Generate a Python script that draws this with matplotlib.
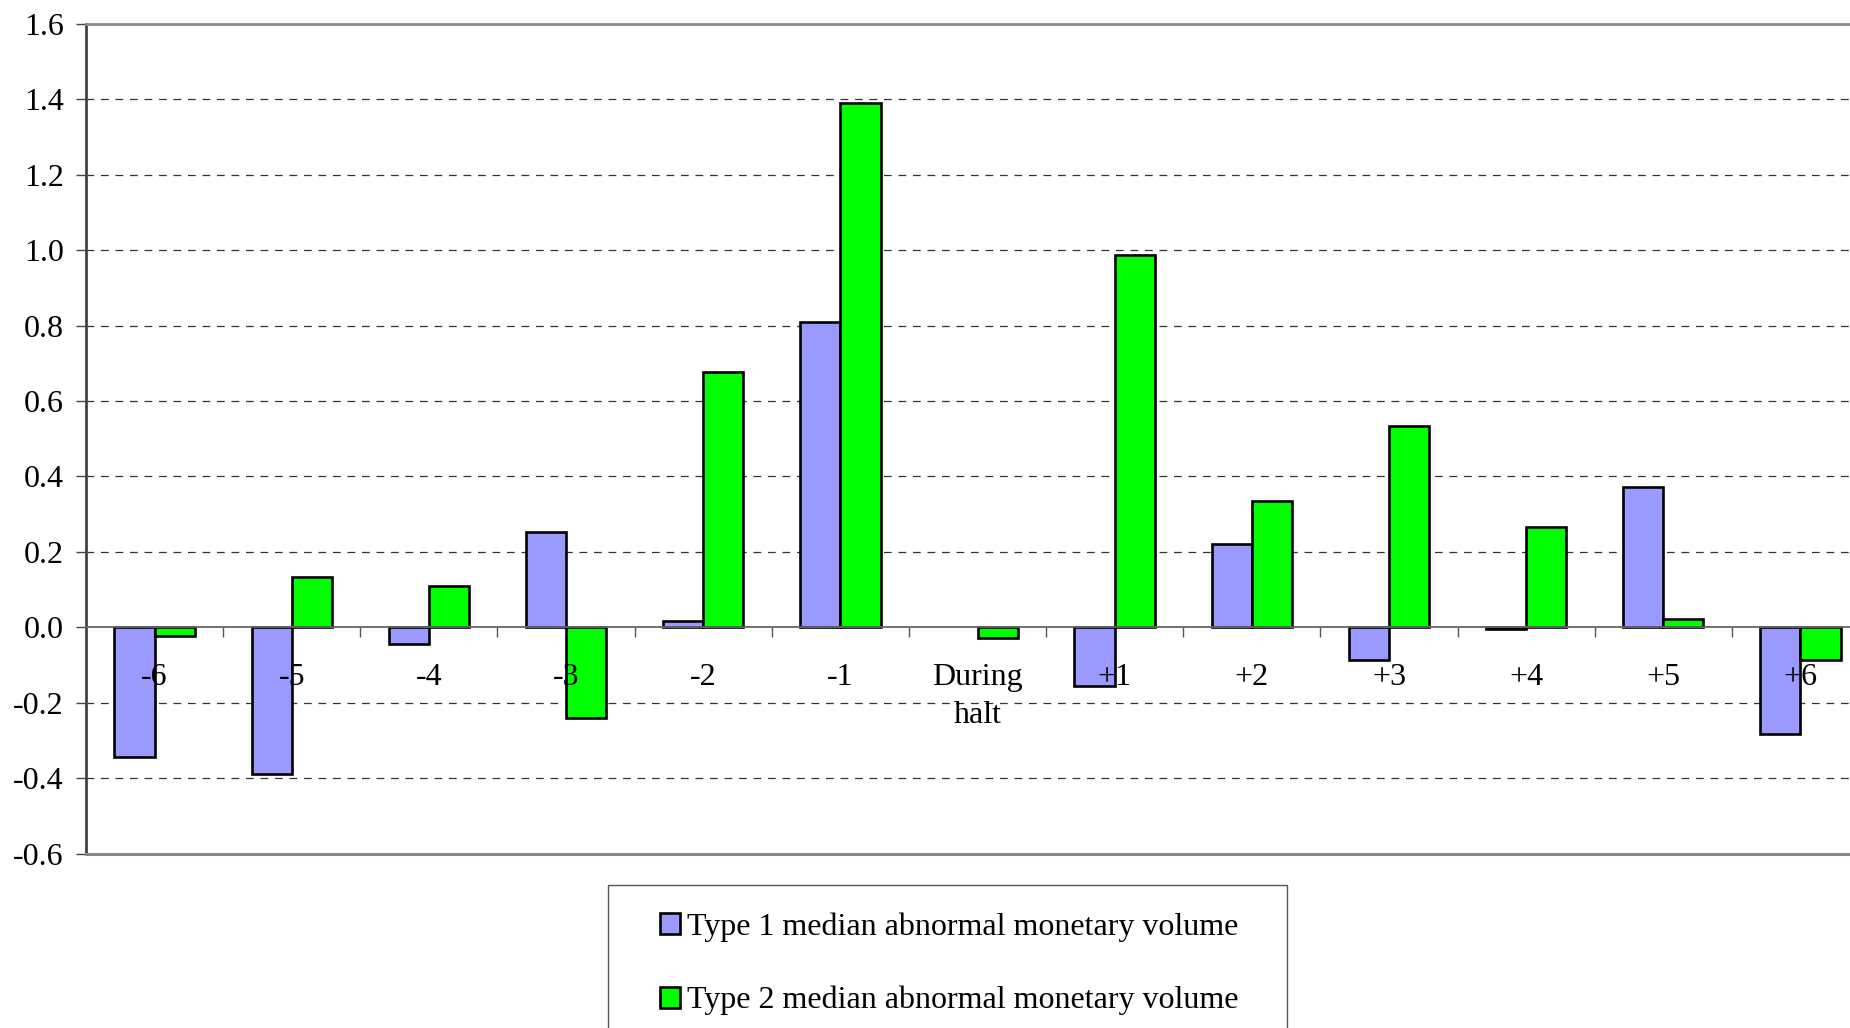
import numpy as np
import matplotlib
matplotlib.use("Agg")
import matplotlib.pyplot as plt
from matplotlib.patches import Rectangle

plt.rcParams['font.family'] = ['Liberation Serif', 'DejaVu Serif']
plt.rcParams['axes.unicode_minus'] = False

# Event-window categories and median abnormal monetary volume per halt type
categories = ["-6", "-5", "-4", "-3", "-2", "-1", "During\nhalt",
              "+1", "+2", "+3", "+4", "+5", "+6"]
type1 = [-0.344, -0.388, -0.044, 0.253, 0.016, 0.809, 0.0,
         -0.156, 0.222, -0.088, -0.005, 0.371, -0.284]
type2 = [-0.022, 0.134, 0.109, -0.240, 0.676, 1.390, -0.028,
         0.988, 0.334, 0.534, 0.265, 0.022, -0.088]
series_labels = ["Type 1 median abnormal monetary volume",
                 "Type 2 median abnormal monetary volume"]
y_ticks = [-0.6, -0.4, -0.2, 0.0, 0.2, 0.4, 0.6, 0.8, 1.0, 1.2, 1.4, 1.6]

W, H, DPI = 1850, 1028, 100
FS = 23
fig = plt.figure(figsize=(W / DPI, H / DPI), dpi=DPI)
ax = fig.add_axes([86 / W, 1 - 853.5 / H, (1869 - 86) / W, (853.5 - 24) / H])

x = np.arange(len(categories))
bw = 0.293
b1 = ax.bar(x - bw / 2, type1, bw, color="#9999FF", edgecolor="black",
            linewidth=1.9, zorder=1)
b2 = ax.bar(x + bw / 2, type2, bw, color="#00FF00", edgecolor="black",
            linewidth=1.9, zorder=1)
for cont, vals in ((b1, type1), (b2, type2)):
    for rect, v in zip(cont, vals):
        if v == 0:
            rect.set_linewidth(0)

ax.set_xlim(-0.5, len(categories) - 0.5)
ax.set_ylim(-0.6, 1.6)

# dashed horizontal gridlines behind the bars
for v in y_ticks:
    if v not in (0.0, -0.6, 1.6):
        ax.axhline(v, color="#333333", linewidth=0.9,
                   linestyle=(0, (6.2, 5.4)), zorder=0.5)

ax.set_yticks(y_ticks)
ax.set_yticklabels([f"{v:.1f}" for v in y_ticks])
ax.tick_params(axis="y", direction="out", length=7, width=1, colors="#444444",
               labelcolor="black", labelsize=FS, pad=9)

# category axis crosses at zero
ax.spines["bottom"].set_position(("data", 0))
ax.spines["bottom"].set_color("#666666")
ax.spines["bottom"].set_linewidth(1.3)
ax.spines["right"].set_visible(False)
ax.spines["top"].set_color("#888888")
ax.spines["top"].set_linewidth(2)
ax.spines["left"].set_color("#444444")
ax.spines["left"].set_linewidth(2)
ax.axhline(-0.6, color="#888888", linewidth=2.2, zorder=3, clip_on=False)

ax.set_xticks(x)
ax.set_xticklabels(categories)
ax.set_xticks(np.arange(0.5, len(categories) - 0.5), minor=True)
ax.tick_params(axis="x", which="major", length=0, pad=26, labelsize=FS)
ax.tick_params(axis="x", which="minor", direction="out", length=7, width=1,
               colors="#555555")
for lbl in ax.get_xticklabels():
    lbl.set_linespacing(1.4)

# legend box (runs past the lower figure edge)
fig.patches.append(Rectangle((608 / W, -0.1), (1287 - 608) / W,
                             (1028 - 885) / H + 0.1, transform=fig.transFigure,
                             facecolor="white", edgecolor="#555555",
                             linewidth=1, zorder=0))
fig.legend([b1, b2], series_labels, loc="upper left",
           bbox_to_anchor=(660 / W, 1 - 912 / H), frameon=False,
           fontsize=FS, handlelength=0.62, handleheight=0.62,
           handletextpad=0.22, labelspacing=1.39, borderpad=0,
           borderaxespad=0)

fig.savefig("out.png", dpi=DPI)
